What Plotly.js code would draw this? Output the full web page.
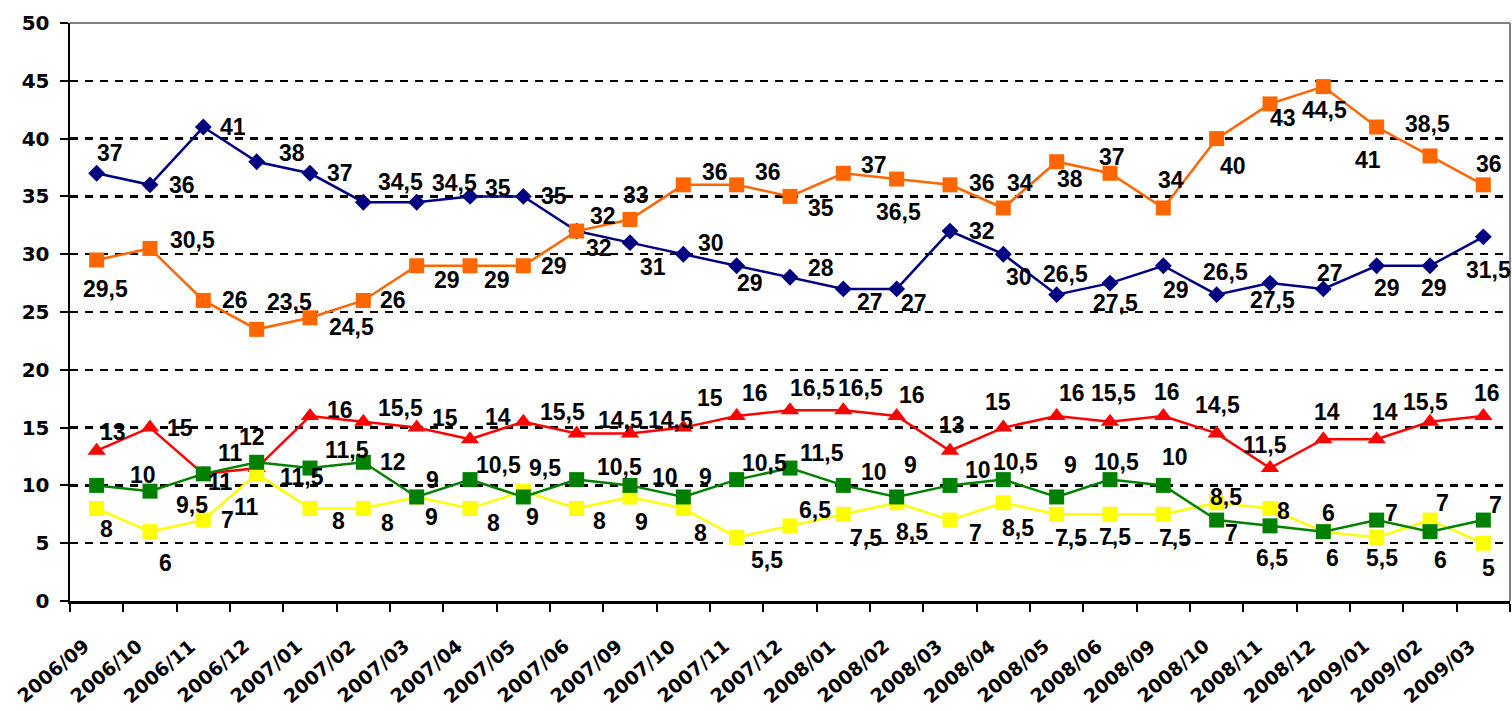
<!DOCTYPE html>
<html>
<head>
<meta charset="utf-8">
<script src="https://cdn.plot.ly/plotly-3.0.1.min.js"></script>
<style>
  html, body { margin: 0; padding: 0; background: #ffffff; }
  #chart { width: 1512px; height: 711px; }
</style>
</head>
<body>
<div id="chart"></div>
<script>
// ---- Data ----
const categories = ["2006/09","2006/10","2006/11","2006/12","2007/01","2007/02","2007/03","2007/04","2007/05","2007/06",
  "2007/09","2007/10","2007/11","2007/12","2008/01","2008/02","2008/03","2008/04","2008/05","2008/06",
  "2008/09","2008/10","2008/11","2008/12","2009/01","2009/02","2009/03"];

const blueValues   = [37, 36, 41, 38, 37, 34.5, 34.5, 35, 35, 32, 31, 30, 29, 28, 27, 27, 32, 30, 26.5, 27.5, 29, 26.5, 27.5, 27, 29, 29, 31.5];
const orangeValues = [29.5, 30.5, 26, 23.5, 24.5, 26, 29, 29, 29, 32, 33, 36, 36, 35, 37, 36.5, 36, 34, 38, 37, 34, 40, 43, 44.5, 41, 38.5, 36];
const redValues    = [13, 15, 11, 11.5, 16, 15.5, 15, 14, 15.5, 14.5, 14.5, 15, 16, 16.5, 16.5, 16, 13, 15, 16, 15.5, 16, 14.5, 11.5, 14, 14, 15.5, 16];
const greenValues  = [10, 9.5, 11, 12, 11.5, 12, 9, 10.5, 9, 10.5, 10, 9, 10.5, 11.5, 10, 9, 10, 10.5, 9, 10.5, 10, 7, 6.5, 6, 7, 6, 7];
const yellowValues = [8, 6, 7, 11, 8, 8, 9, 8, 9.5, 8, 9, 8, 5.5, 6.5, 7.5, 8.5, 7, 8.5, 7.5, 7.5, 7.5, 8.5, 8, 6, 5.5, 7, 5];

// ---- Label placement (pixel offsets from each point: [dx, dy], dy down) ----
const blueLabelPos = [[13,-20],[32,0],[30,0],[35,-9],[30,0],[37,-20],[38,-19],[28,-8],[31,0],[22,17],[23,24],[28,-11],[13,17],[31,-9],[27,13],[17,14],[32,0],[16,23],[9,-21],[5,20],[13,24],[9,-23],[2,17],[7,-16],[10,22],[4,22],[5,33]];
const orangeLabelPos = [[9,29],[42,-8],[32,0],[33,-27],[41,9],[30,0],[30,14],[27,14],[31,0],[26,-15],[6,-25],[32,-13],[31,-13],[31,12],[31,-8],[2,33],[32,-2],[17,-25],[13,17],[2,-16],[8,-28],[16,27],[13,14],[1,23],[-9,33],[-3,-32],[6,-21]];
const redLabelPos = [[16,-19],[30,0],[17,8],[45,9],[30,-6],[37,-14],[28,-10],[28,-22],[39,-10],[44,-13],[40,-13],[27,-30],[18,-23],[22,-22],[17,-22],[15,-21],[2,-26],[-5,-26],[15,-23],[3,-29],[4,-24],[1,-28],[-5,-23],[4,-27],[8,-27],[-5,-20],[4,-23]];
const greenLabelPos = [[46,-10],[42,14],[27,-21],[-5,-25],[37,-18],[30,0],[16,-17],[28,-15],[9,20],[43,-13],[35,-8],[22,-20],[28,-17],[32,-15],[31,-13],[14,-32],[28,-15],[12,-18],[14,-32],[6,-18],[12,-28],[15,13],[2,32],[9,26],[15,-7],[10,28],[12,-15]];
const yellowLabelPos = [[10,20],[15,31],[24,0],[-10,33],[28,12],[24,14],[15,20],[23,14],[22,-23],[23,12],[11,25],[17,24],[30,23],[25,-16],[23,24],[15,29],[25,13],[15,25],[14,24],[5,23],[12,24],[9,-6],[13,2],[5,-19],[5,21],[12,-17],[5,25]];

// ---- Styles ----
const seriesDefs = [
  {name: "Series 1", values: blueValues,   pos: blueLabelPos,   color: "#000080", symbol: "diamond",     size: 13},
  {name: "Series 3", values: redValues,    pos: redLabelPos,    color: "#FF0000", symbol: "triangle-up", size: 16},
  {name: "Series 5", values: yellowValues, pos: yellowLabelPos, color: "#FFFF00", symbol: "square",      size: 15},
  {name: "Series 4", values: greenValues,  pos: greenLabelPos,  color: "#008000", symbol: "square",      size: 15},
  {name: "Series 2", values: orangeValues, pos: orangeLabelPos, color: "#FF6600", symbol: "square",      size: 15}
];

const fmt = v => String(v).replace('.', ',');

const traces = seriesDefs.map(s => ({
  type: "scatter",
  mode: "lines+markers",
  name: s.name,
  x: categories,
  y: s.values,
  line: {color: s.color, width: 2.5},
  marker: {color: s.color, symbol: s.symbol, size: s.size, line: {width: 0}},
  hoverinfo: "x+y"
}));

const annotations = [];
seriesDefs.forEach(s => {
  s.values.forEach((v, i) => {
    annotations.push({
      xref: "x", yref: "y",
      x: categories[i], y: v,
      text: "<b>" + fmt(v) + "</b>",
      showarrow: false,
      xanchor: "center", yanchor: "middle",
      xshift: s.pos[i][0], yshift: -s.pos[i][1],
      font: {family: "Liberation Sans", size: 23, color: "#000000"}
    });
  });
});

// Category tick labels (rotated), drawn as text under the axis
categories.forEach(c => {
  annotations.push({
    xref: "x", yref: "paper",
    x: c, y: 0,
    text: "<b>" + c + "</b>",
    textangle: -40,
    showarrow: false,
    xanchor: "center", yanchor: "middle",
    xshift: -44, yshift: -70,
    borderpad: 0,
    font: {family: "DejaVu Sans", size: 19, color: "#000000"}
  });
});

const layout = {
  width: 1512, height: 711,
  margin: {l: 70, r: 2, t: 23, b: 110, pad: 0},
  paper_bgcolor: "#ffffff",
  plot_bgcolor: "#ffffff",
  showlegend: false,
  xaxis: {
    type: "category",
    range: [-0.5, categories.length - 0.5],
    showline: true, linecolor: "#000000", linewidth: 2.5,
    ticks: "outside", ticklen: 8, tickwidth: 2, tickcolor: "#000000",
    tickson: "boundaries",
    showticklabels: false,
    showgrid: false, zeroline: false
  },
  yaxis: {
    range: [0, 50], dtick: 5, tick0: 0,
    showline: true, linecolor: "#000000", linewidth: 2.5,
    ticks: "outside", ticklen: 8, tickwidth: 2, tickcolor: "#000000",
    ticklabelstandoff: 6,
    showgrid: true, gridcolor: "#000000", gridwidth: 2.5, griddash: "8px,7px",
    zeroline: false,
    tickfont: {family: "DejaVu Sans", size: 20, color: "#000000", weight: "bold"}
  },
  shapes: [
    {type: "line", xref: "paper", yref: "paper", x0: 0, x1: 1, y0: 1, y1: 1, line: {color: "#808080", width: 2}, layer: "above"},
    {type: "line", xref: "paper", yref: "paper", x0: 1, x1: 1, y0: 0, y1: 1, line: {color: "#808080", width: 2}, layer: "above"}
  ],
  annotations: annotations
};

Plotly.newPlot("chart", traces, layout, {displayModeBar: false, staticPlot: true});
</script>
</body>
</html>
